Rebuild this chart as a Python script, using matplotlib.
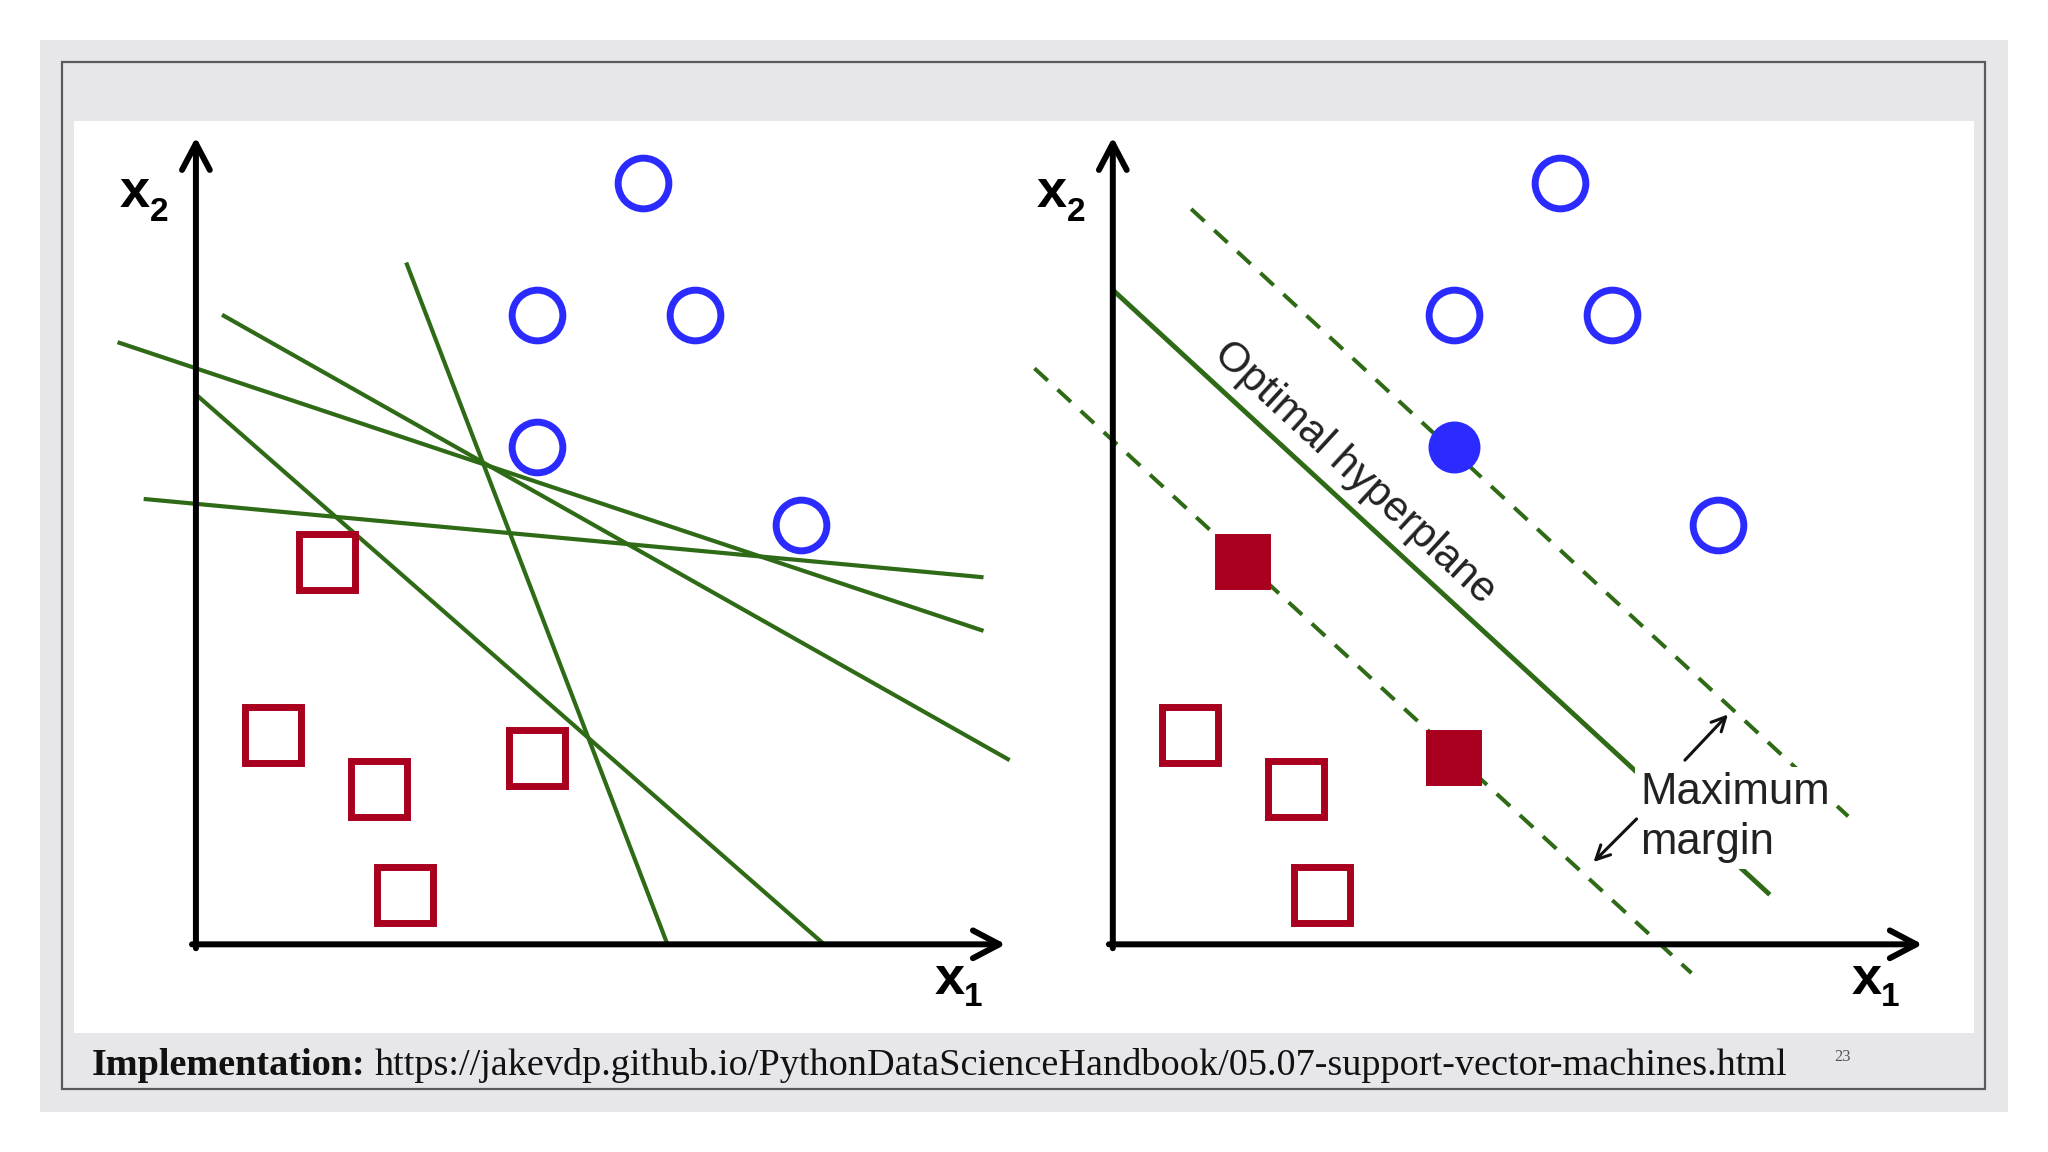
import numpy as np
import matplotlib
matplotlib.use('Agg')
import matplotlib.pyplot as plt
from matplotlib.patches import Rectangle

# point data (same set in both panels), units relative to the axes origin
circle_x = [34.2, 26.1, 38.2, 26.1, 46.3]
circle_y = [58.3, 48.2, 48.2, 38.1, 32.1]
square_x = [10.0, 5.9, 14.0, 26.1, 16.0]
square_y = [29.3, 16.0, 11.9, 14.3, 3.8]

# support vectors in the right panel (indices into the lists above)
sv_circles = [3]
sv_squares = [0, 3]

# candidate separating lines, left panel: (x0, y0, x1, y1)
candidate_lines = [
    (-4.0, 34.1, 60.3, 28.1),
    (-6.0, 46.1, 60.3, 24.0),
    (2.0, 48.2, 62.3, 14.1),
    (16.1, 52.2, 36.1, 0.0),
    (0.0, 42.1, 48.1, 0.0),
]

# right panel: optimal hyperplane and margins
hyperplane = (0.0, 50.1, 50.3, 3.8)
margin_upper = (6.0, 56.3, 56.3, 9.8)
margin_lower = (-6.0, 44.1, 44.3, -2.2)

footer_bold = 'Implementation:'
footer_url = 'https://jakevdp.github.io/PythonDataScienceHandbook/05.07-support-vector-machines.html'
page_no = '23'

BLUE = '#2b2bff'
RED = '#a8001e'
GREEN = '#2f6b16'
GRAY_BG = '#e7e6e9'

W, H = 1568.0, 882.0   # layout grid of the slide


def frac(x, y):
    return x / W, 1 - y / H


fig = plt.figure(figsize=(20.48, 11.52), dpi=100, facecolor='white')

# slide frame
bg = fig.add_axes([0, 0, 1, 1])
bg.set_xlim(0, W)
bg.set_ylim(H, 0)
bg.axis('off')
bg.add_patch(Rectangle((30.6, 30.6), 1537 - 30.6, 851 - 30.6, facecolor=GRAY_BG, edgecolor='none'))
bg.add_patch(Rectangle((47.5, 47.5), 1520 - 47.5, 834 - 47.5, facecolor='none', edgecolor='#5a5a5a', lw=1.6))
bg.add_patch(Rectangle((56.7, 92.6), 1511 - 56.7, 791 - 92.6, facecolor='white', edgecolor='none'))

bg.text(70, 816, footer_bold, family='Liberation Serif', fontweight='bold', fontsize=27.5,
        ha='left', va='center', color='#111111')
bg.text(287, 816, footer_url, family='Liberation Serif', fontsize=27.5,
        ha='left', va='center', color='#111111')
bg.text(1411, 809, page_no, family='Liberation Serif', fontsize=12, ha='center', va='center', color='#555555')


def make_panel(ox, oy):
    # 10 layout px per data unit, x in [-9, 63], y in [-7, 63]
    x0, y0 = frac(ox - 90, oy + 70)
    x1, y1 = frac(ox + 630, oy - 630)
    ax = fig.add_axes([x0, y0, x1 - x0, y1 - y0])
    ax.set_xlim(-9, 63)
    ax.set_ylim(-7, 63)
    ax.axis('off')
    ax.patch.set_alpha(0)

    arrow = dict(arrowstyle='->, head_length=0.95, head_width=0.5', lw=4.3, color='black',
                 mutation_scale=20, shrinkA=0, shrinkB=0)
    ax.annotate('', xy=(0, 61.8), xytext=(0, -0.3), arrowprops=arrow, zorder=5)
    ax.annotate('', xy=(62.0, 0), xytext=(-0.3, 0), arrowprops=arrow, zorder=5)

    lab = dict(family='Liberation Sans', fontweight='bold', color='black', ha='center', va='center')
    ax.text(-4.66, 57.5, 'x', fontsize=39, **lab)
    ax.text(-2.83, 56.0, '2', fontsize=24, **lab)
    ax.text(57.7, -2.7, 'x', fontsize=39, **lab)
    ax.text(59.5, -4.1, '1', fontsize=24, **lab)
    return ax


# ---------- left panel ----------
axL = make_panel(150, 723)
for x0, y0, x1, y1 in candidate_lines:
    axL.plot([x0, x1], [y0, y1], color=GREEN, lw=3.0, solid_capstyle='butt', zorder=2)
axL.plot(circle_x, circle_y, 'o', ms=36.5, mfc='none', mec=BLUE, mew=5, zorder=3)
axL.plot(square_x, square_y, 's', ms=40, mfc='none', mec=RED, mew=5, zorder=3)

# ---------- right panel ----------
axR = make_panel(852, 723)
x0, y0, x1, y1 = hyperplane
axR.plot([x0, x1], [y0, y1], color=GREEN, lw=3.5, solid_capstyle='butt', zorder=2)
for x0, y0, x1, y1 in (margin_upper, margin_lower):
    axR.plot([x0, x1], [y0, y1], color=GREEN, lw=2.9, dashes=(4.5, 3.3), zorder=2)

open_c = [i for i in range(len(circle_x)) if i not in sv_circles]
open_s = [i for i in range(len(square_x)) if i not in sv_squares]
axR.plot([circle_x[i] for i in open_c], [circle_y[i] for i in open_c], 'o', ms=36.5,
         mfc='none', mec=BLUE, mew=5, zorder=3)
axR.plot([circle_x[i] for i in sv_circles], [circle_y[i] for i in sv_circles], 'o', ms=36,
         mfc=BLUE, mec=BLUE, mew=1.4, zorder=3)
axR.plot([square_x[i] for i in open_s], [square_y[i] for i in open_s], 's', ms=40,
         mfc='none', mec=RED, mew=5, zorder=3)
axR.plot([square_x[i] for i in sv_squares], [square_y[i] for i in sv_squares], 's', ms=39.5,
         mfc=RED, mec=RED, mew=1.4, zorder=3)

ang = np.degrees(np.arctan2(hyperplane[3] - hyperplane[1], hyperplane[2] - hyperplane[0]))
axR.text(18.5, 36.1, 'Optimal hyperplane', family='Liberation Sans', fontsize=30.5, color='#222222',
         rotation=ang, rotation_mode='anchor', ha='center', va='center', zorder=4)

axR.text(40.4, 9.7, 'Maximum\nmargin', family='Liberation Sans', fontsize=31.5, color='#222222',
         ha='left', va='center', linespacing=1.3, zorder=4,
         bbox=dict(boxstyle='square,pad=0.12', facecolor='white', edgecolor='none'))
small = dict(arrowstyle='->, head_length=0.5, head_width=0.25', lw=2.2, color='#111111',
             mutation_scale=20, shrinkA=0, shrinkB=0)
axR.annotate('', xy=(47.1, 17.6), xytext=(43.8, 14.1), arrowprops=small, zorder=5)
axR.annotate('', xy=(36.8, 6.3), xytext=(40.1, 9.6), arrowprops=small, zorder=5)

fig.savefig('out.png', dpi=100, facecolor='white')
